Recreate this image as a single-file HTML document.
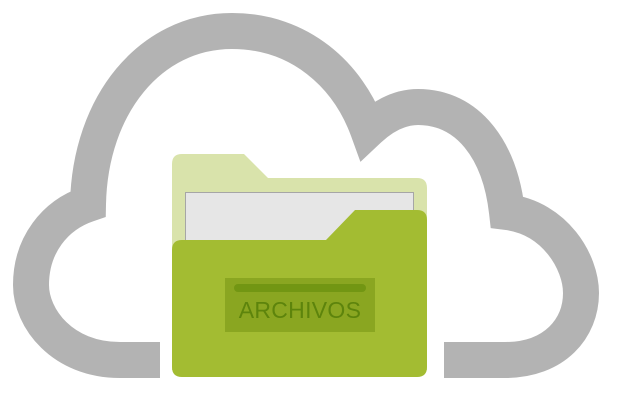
<!DOCTYPE html>
<html><head><style>
html,body{margin:0;padding:0;background:#fff;width:625px;height:417px;overflow:hidden}
</style></head><body>
<svg width="625" height="417" viewBox="0 0 625 417" xmlns="http://www.w3.org/2000/svg">
<path d="M160,360 L120,360 C62,360 31,318 31,285 C31,245 55,215 88,204 C90,105 150,31 232,31 C300,31 348,75 368,130 C385,114 402,107 418,107 C468,107 500,150 507,212 C555,218 581,262 581,293 C581,328 555,360 505,360 L444,360"
 fill="none" stroke="#b3b3b3" stroke-width="36"/>
<path d="M182,154 L244,154 L268,178 L417,178 Q427,178 427,188 L427,370 L172,370 L172,164 Q172,154 182,154 Z" fill="#d9e3ab"/>
<rect x="185.5" y="192.5" width="228" height="60" fill="#e6e6e6" stroke="#a6a6a6" stroke-width="1"/>
<path d="M182,240 L326,240 L355,210 L417,210 Q427,210 427,220 L427,367 Q427,377 417,377 L182,377 Q172,377 172,367 L172,250 Q172,240 182,240 Z" fill="#a3bc32"/>
<rect x="225" y="278" width="150" height="54" fill="#8aa621"/>
<rect x="234" y="284" width="132" height="8" rx="4" fill="#729613"/>
<text x="300" y="318" text-anchor="middle" font-family="Liberation Sans, sans-serif" font-size="23" letter-spacing="0.3" fill="#5d840c">ARCHIVOS</text>
</svg>
</body></html>
